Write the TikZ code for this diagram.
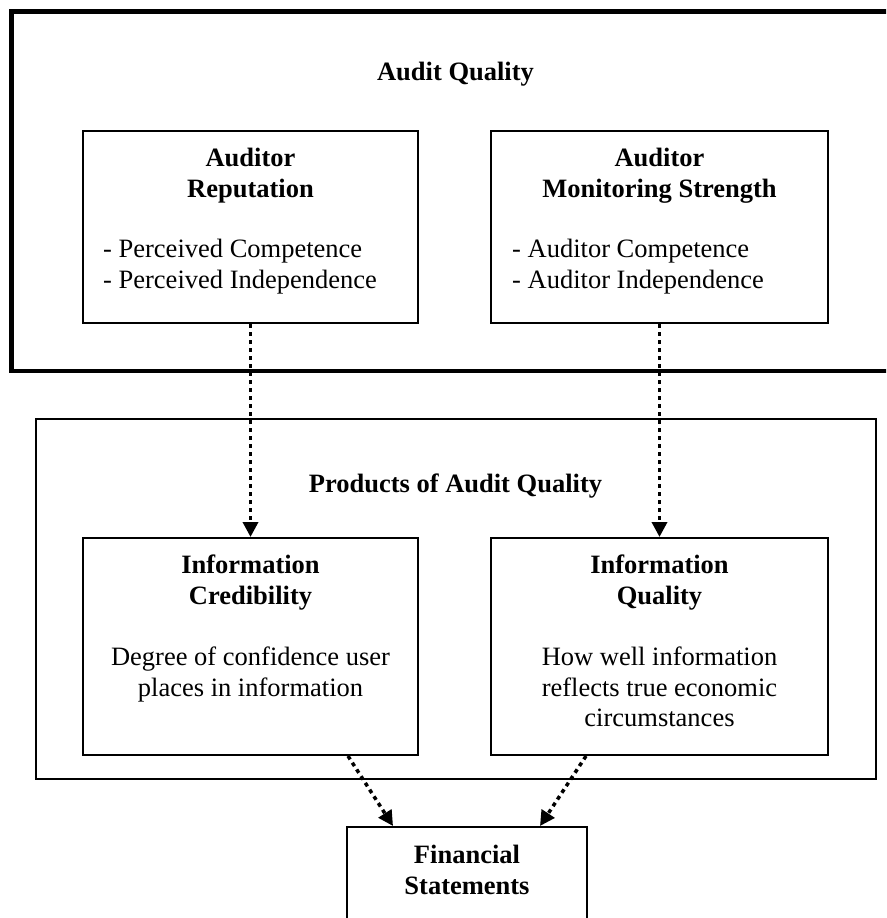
\documentclass[tikz,border=0pt]{standalone}
\usepackage{fontspec}
\setmainfont{Liberation Serif}
\usetikzlibrary{arrows.meta}

\tikzset{
  box/.style={draw, line width=2pt, inner sep=0pt},
  boxtitle/.style={font=\fontsize{26.5}{30.5}\selectfont\bfseries, align=center, inner sep=0pt},
  boxbody/.style={font=\fontsize{26.5}{30.5}\selectfont, inner sep=0pt},
  flow/.style={line width=3.5pt, dash pattern=on 4pt off 4pt, -{Triangle[width=15pt,length=15pt]}},
}

\begin{document}
\begin{tikzpicture}[x=1pt,y=-1pt]
  \useasboundingbox (0,0) rectangle (886,918);
  \clip (0,0) rectangle (886,918);

  % frames
  \draw[line width=4.5pt] (11.5,11.5) rectangle (905,371);
  \draw[line width=2pt] (35.5,419) rectangle (875.5,779);

  \node[boxtitle, anchor=base] (aqtitle) at (455.5,80) {Audit Quality};
  \node[boxtitle, anchor=base] (prtitle) at (455.5,492) {Products of Audit Quality};

  % upper boxes
  \node[box, minimum width=335pt, minimum height=192pt] (rep) at (250.5,227) {};
  \node[boxtitle, anchor=north] (reptitle) at (250.5,148) {Auditor\\Reputation};
  \node[boxbody, anchor=north west, align=left] (repbody) at (103,239) {- Perceived Competence\\- Perceived Independence};

  \node[box, minimum width=337pt, minimum height=192pt] (mon) at (659.5,227) {};
  \node[boxtitle, anchor=north] (montitle) at (659.5,148) {Auditor\\Monitoring Strength};
  \node[boxbody, anchor=north west, align=left] (monbody) at (512,239) {- Auditor Competence\\- Auditor Independence};

  % lower boxes
  \node[box, minimum width=335pt, minimum height=217pt] (cred) at (250.5,646.5) {};
  \node[boxtitle, anchor=north] (credtitle) at (250.5,555) {Information\\Credibility};
  \node[boxbody, anchor=north, align=center] (credbody) at (250.5,647) {Degree of confidence user\\places in information};

  \node[box, minimum width=337pt, minimum height=217pt] (qual) at (659.5,646.5) {};
  \node[boxtitle, anchor=north] (qualtitle) at (659.5,555) {Information\\Quality};
  \node[boxbody, anchor=north, align=center] (qualbody) at (659.5,647) {How well information\\reflects true economic\\circumstances};

  \node[box, minimum width=240pt, minimum height=133pt] (fin) at (467,893.5) {};
  \node[boxtitle, anchor=north] (fintitle) at (467,845) {Financial\\Statements};

  % arrows
  \draw[flow] (rep) -- (cred);
  \draw[flow] (mon) -- (qual);
  \draw[flow] ([xshift=97.5pt]cred.south) -- ([xshift=-74pt]fin.north);
  \draw[flow] ([xshift=-73.5pt]qual.south) -- ([xshift=73pt]fin.north);
\end{tikzpicture}
\end{document}
